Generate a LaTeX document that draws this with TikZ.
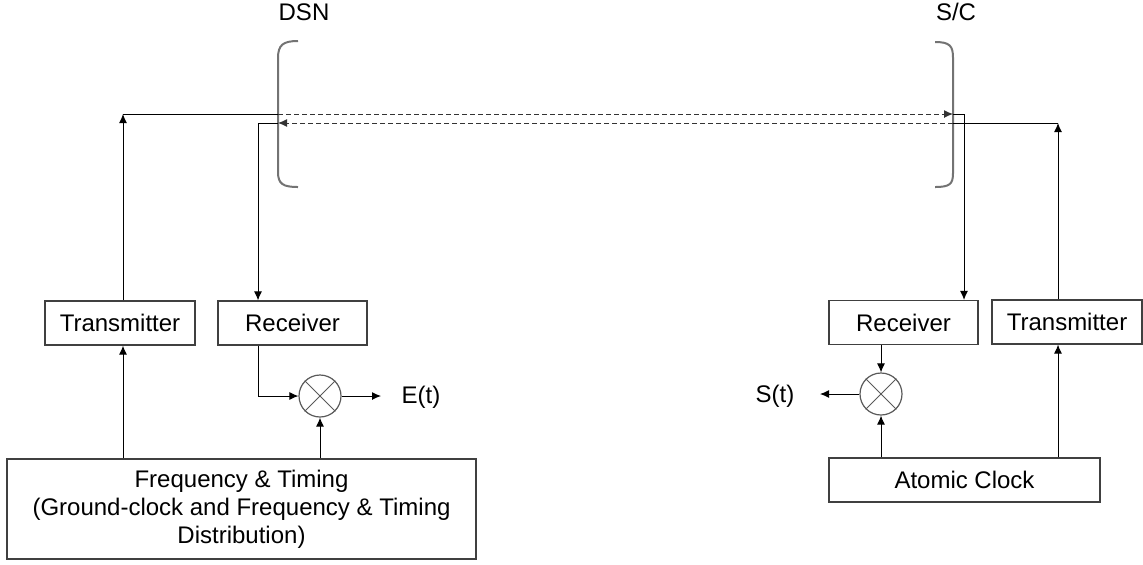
\documentclass[tikz,border=0pt]{standalone}
\usepackage{fontspec}
\setmainfont{Liberation Sans}
\usetikzlibrary{arrows.meta}
\begin{document}
\begin{tikzpicture}[x=0.5pt,y=-0.5pt,
  box/.style={draw=black!75,line width=0.6pt,rectangle,inner sep=0pt,minimum height=22pt,font=\fontsize{12}{14}\selectfont},
  mix/.style={draw=black!65,line width=0.6pt,circle,inner sep=0pt,minimum size=21pt},
  lbl/.style={inner sep=0pt,font=\fontsize{12}{14}\selectfont},
  wire/.style={line width=0.5pt,black},
  tip/.style={-{Latex[length=4.5pt,width=4pt]}},
  arr/.style={wire,tip},
  dsh/.style={line width=0.5pt,black!80,dash pattern=on 2.5pt off 1.5pt},
  brk/.style={line width=1pt,black!55}]
\useasboundingbox (0,0) rectangle (1143,564);
% labels
\node[lbl] (dsn) at (304,12) {DSN};
\node[lbl] (sc) at (956,12) {S/C};
% brackets
\draw[brk] (298,41) .. controls (283,41) and (278,45) .. (278,58) -- (278,172) .. controls (278,184) and (283,187) .. (298,187);
\draw[brk] (935,42) .. controls (950,42) and (953,46) .. (953,58) -- (953,173) .. controls (953,184) and (950,187) .. (935,187);
% boxes
\node[box,minimum width=75pt] (txL) at (120,323) {Transmitter};
\node[box,minimum width=74.5pt] (rxL) at (292.5,323) {Receiver};
\node[box,minimum width=234.5pt,minimum height=50pt,align=center] (ft) at (241.5,509) {Frequency \& Timing\\(Ground-clock and Frequency \& Timing\\Distribution)};
\node[box,minimum width=74.5pt] (rxR) at (903.5,322.5) {Receiver};
\node[box,minimum width=75pt] (txR) at (1067,322) {Transmitter};
\node[box,minimum width=135.5pt] (ac) at (964.5,480) {Atomic Clock};
% mixers
\node[mix] (mL) at (320,396) {};
\draw[black!65,line width=0.5pt] (mL.north west) -- (mL.south east) (mL.north east) -- (mL.south west);
\node[mix] (mR) at (881,394) {};
\draw[black!65,line width=0.5pt] (mR.north west) -- (mR.south east) (mR.north east) -- (mR.south west);
\node[lbl] (Et) at (421,397) {E(t)};
\node[lbl] (St) at (775,396) {S(t)};
% helper coordinates
\coordinate (cTL) at (123,0);
\coordinate (cRL) at (258,0);
\coordinate (cML) at (320,0);
\coordinate (cRR) at (964,0);
\coordinate (cMR) at (881,0);
\coordinate (cTR) at (1058,0);
\coordinate (bL) at (278,0);
\coordinate (bR) at (953,0);
\coordinate (yU) at (0,114);
\coordinate (yD) at (0,123);
\coordinate (eE) at (381,396);
\coordinate (eS) at (820,394);
% uplink
\draw[arr] (txL.north -| cTL) -- (yU -| cTL);
\draw[wire] (yU -| cTL) -- (yU -| bL);
\draw[dsh,tip] (yU -| bL) -- (yU -| bR);
\draw[arr] (yU -| bR) -| (rxR.north -| cRR);
% downlink
\draw[arr] (txR.north -| cTR) -- (yD -| cTR);
\draw[wire] (yD -| cTR) -- (yD -| bR);
\draw[dsh,tip] (yD -| bR) -- (yD -| bL);
\draw[arr] (yD -| bL) -| (rxL.north -| cRL);
% ground side
\draw[arr] (ft.north -| cTL) -- (txL.south -| cTL);
\draw[arr] (rxL.south -| cRL) |- (mL.west);
\draw[arr] (ft.north -| cML) -- (mL.south);
\draw[arr] (mL.east) -- (eE);
% spacecraft side
\draw[arr] (rxR.south -| cMR) -- (mR.north);
\draw[arr] (ac.north -| cMR) -- (mR.south);
\draw[arr] (mR.west) -- (eS);
\draw[arr] (ac.north -| cTR) -- (txR.south -| cTR);
\end{tikzpicture}
\end{document}
